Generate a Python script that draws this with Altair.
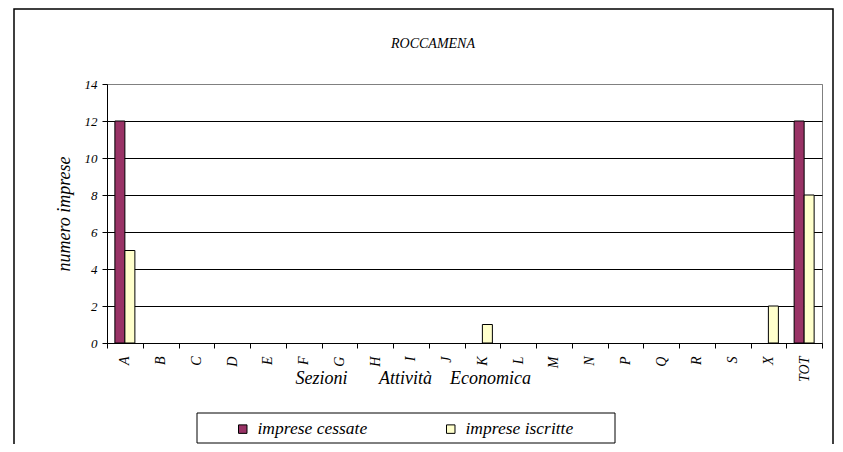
import altair as alt
import pandas as pd

categories = ["A", "B", "C", "D", "E", "F", "G", "H", "I", "J",
              "K", "L", "M", "N", "P", "Q", "R", "S", "X", "TOT"]
cessate = [12, 0, 0, 0, 0, 0, 0, 0, 0, 0, 0, 0, 0, 0, 0, 0, 0, 0, 0, 12]
iscritte = [5, 0, 0, 0, 0, 0, 0, 0, 0, 0, 1, 0, 0, 0, 0, 0, 0, 0, 2, 8]
series = ["imprese cessate", "imprese iscritte"]
colors = ["#993366", "#FFFFCC"]
y_ticks = [0, 2, 4, 6, 8, 10, 12, 14]
chart_title = "ROCCAMENA"

rows = []
for c, a, b in zip(categories, cessate, iscritte):
    rows.append({"sezione": c, "serie": series[0], "valore": a})
    rows.append({"sezione": c, "serie": series[1], "valore": b})
df = pd.DataFrame(rows)

FONT = "Liberation Serif"
NB = "\u00a0"
x_title = "Sezioni" + NB * 7 + "Attività" + NB * 4 + "Economica"

bars = alt.Chart(df).transform_filter("datum.valore > 0").mark_bar(
    stroke="black", strokeWidth=1
).encode(
    x=alt.X(
        "sezione:N",
        sort=categories,
        scale=alt.Scale(domain=categories, paddingInner=0, paddingOuter=0),
        axis=alt.Axis(
            title=x_title,
            labelAngle=270,
            labelFontSize=14,
            labelPadding=8,
            tickBand="extent",
            tickSize=5,
            grid=False,
            titleFontSize=18,
            titleX=188,
            titleY=40,
            titleAlign="left",
            titleBaseline="alphabetic",
            titleAnchor="start",
        ),
    ),
    xOffset=alt.XOffset(
        "serie:N",
        sort=series,
        scale=alt.Scale(domain=series, paddingInner=0, paddingOuter=0.7875),
    ),
    y=alt.Y(
        "valore:Q",
        scale=alt.Scale(domain=[0, 14], nice=False),
        axis=alt.Axis(
            title="numero imprese",
            values=y_ticks,
            labelFontSize=13,
            labelPadding=5,
            tickSize=5,
            titleFontSize=18,
            titlePadding=11,
            gridColor=alt.condition("datum.value == 14", alt.value("#808080"), alt.value("black")),
        ),
    ),
    color=alt.Color(
        "serie:N",
        scale=alt.Scale(domain=series, range=colors),
        legend=alt.Legend(
            title=None,
            orient="none",
            direction="horizontal",
            columns=2,
            columnPadding=74,
            legendX=127,
            legendY=336,
            padding=0,
            symbolType="square",
            symbolSize=72,
            symbolStrokeColor="black",
            symbolStrokeWidth=1,
            symbolOpacity=1,
            labelFont=FONT,
            labelFontStyle="italic",
            labelFontSize=17.5,
            labelColor="black",
            labelOffset=6,
        ),
    ),
)

one = alt.Data(values=[{}])

title_text = alt.Chart(one).mark_text(
    text=chart_title, font=FONT, fontSize=14, fontStyle="italic",
    color="black", align="center", baseline="alphabetic"
).encode(x=alt.value(326), y=alt.value(-36))

legend_box = alt.Chart(one).mark_rect(fill=None, stroke="black", strokeWidth=1).encode(
    x=alt.value(90), x2=alt.value(508), y=alt.value(329), y2=alt.value(359)
)

outer_frame = alt.Chart(one).mark_rect(fill=None, stroke="black", strokeWidth=1.5).encode(
    x=alt.value(-93), x2=alt.value(726), y=alt.value(-75), y2=alt.value(420)
)

chart = alt.layer(outer_frame, bars, legend_box, title_text).properties(
    width=715,
    height=259,
    autosize=alt.AutoSizeParams(type="none"),
    padding={"left": 99, "top": 76, "right": 13, "bottom": 101},
).configure_view(
    stroke="#808080", strokeWidth=1
).configure_axis(
    labelFont=FONT,
    labelFontStyle="italic",
    labelColor="black",
    titleFont=FONT,
    titleFontStyle="italic",
    titleFontWeight="normal",
    titleColor="black",
    domainColor="black",
    tickColor="black",
    gridColor="black",
    gridOpacity=1,
    domainWidth=1,
    tickWidth=1,
)

chart.save("out.html", embed_options={"renderer": "svg", "actions": False})
